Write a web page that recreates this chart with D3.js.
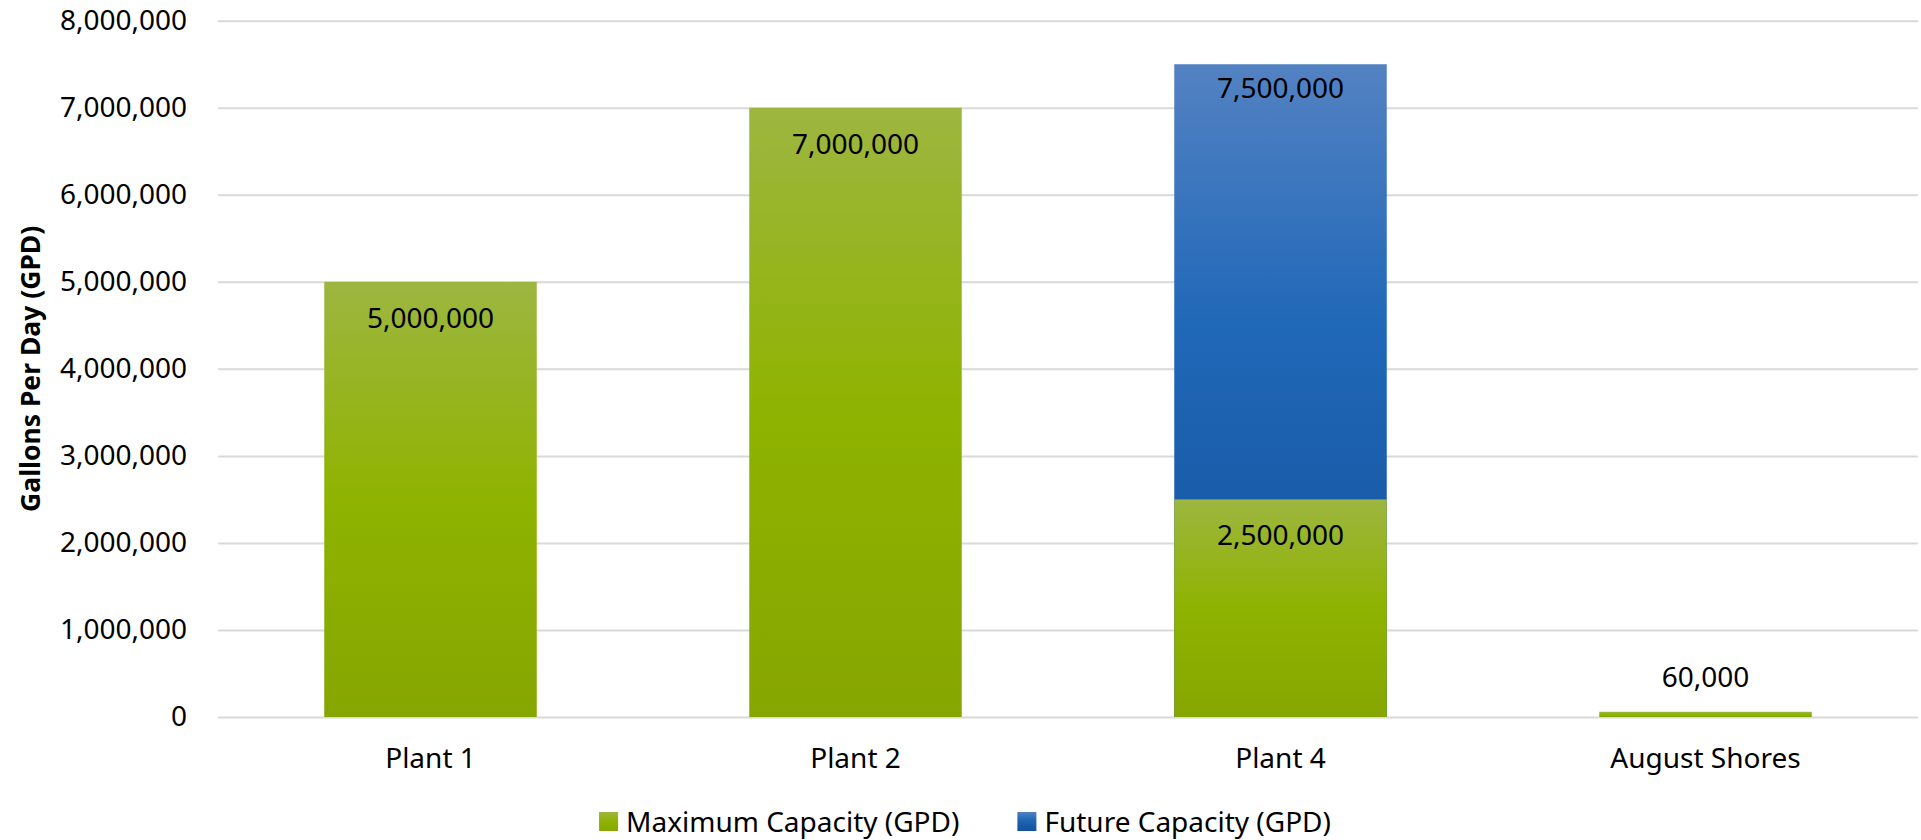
<!DOCTYPE html>
<html>
<head>
<meta charset="utf-8">
<script src="https://cdn.jsdelivr.net/npm/d3@7"></script>
<style>
  body { margin: 0; background: #fff; }
  text { font-family: "Noto Sans", sans-serif; fill: #000; }
  .axis .domain { display: none; }
  .axis--y line { stroke: #d9d9d9; stroke-width: 2; }
</style>
</head>
<body>
<svg width="1921" height="840"></svg>
<script>
// chart data
var categories = ["Plant 1", "Plant 2", "Plant 4", "August Shores"];
var maxCapacity = [5000000, 7000000, 2500000, 60000];
var futureCapacity = [null, null, 7500000, null];
var yTicks = [0, 1000000, 2000000, 3000000, 4000000, 5000000, 6000000, 7000000, 8000000];
var seriesNames = ["Maximum Capacity (GPD)", "Future Capacity (GPD)"];

var svg = d3.select("svg"),
    plot = { left: 218, right: 1918, top: 20.7, bottom: 717 };

var x = d3.scaleBand()
    .domain(categories)
    .range([plot.left, plot.right])
    .paddingInner(0.5)
    .paddingOuter(0.25);

var y = d3.scaleLinear()
    .domain([0, 8000000])
    .range([plot.bottom, plot.top]);

var fmt = d3.format(",");

// gradients like the office "light to dark" fill
var defs = svg.append("defs");
function gradient(id, stops) {
    var g = defs.append("linearGradient")
        .attr("id", id)
        .attr("x1", 0).attr("y1", 0).attr("x2", 0).attr("y2", 1);
    stops.forEach(function(s) {
        g.append("stop").attr("offset", s[0]).attr("stop-color", s[1]);
    });
}
gradient("green", [[0, "#9db640"], [0.5, "#8fb300"], [1, "#86a600"]]);
gradient("blue", [[0, "#5382c2"], [0.4, "#2068b8"], [0.75, "#1759a6"], [1, "#14529c"]]);

// y axis with gridlines
svg.append("g")
    .attr("class", "axis axis--y")
    .attr("transform", "translate(" + plot.left + ",0)")
    .call(d3.axisLeft(y)
        .tickValues(yTicks)
        .tickSize(-(plot.right - plot.left))
        .tickPadding(31)
        .tickFormat(fmt))
    .selectAll("text")
    .style("font-size", "28px");

// x axis labels
svg.append("g")
    .attr("class", "axis axis--x")
    .attr("transform", "translate(0," + plot.bottom + ")")
    .call(d3.axisBottom(x).tickSize(0).tickPadding(31))
    .selectAll("text")
    .style("font-size", "28px");

svg.append("text")
    .attr("transform", "translate(40," + (plot.top + plot.bottom) / 2 + ") rotate(-90)")
    .attr("text-anchor", "middle")
    .style("font-size", "26.5px")
    .style("font-weight", "bold")
    .text("Gallons Per Day (GPD)");

// future bars sit behind the max bars (100% overlap)
var future = categories.map(function(c, i) { return { cat: c, value: futureCapacity[i] }; })
    .filter(function(d) { return d.value != null; });
var max = categories.map(function(c, i) { return { cat: c, value: maxCapacity[i] }; });

function drawBars(data, fill) {
    svg.append("g").selectAll("rect")
        .data(data)
        .enter().append("rect")
        .attr("x", function(d) { return x(d.cat); })
        .attr("y", function(d) { return y(d.value); })
        .attr("width", x.bandwidth())
        .attr("height", function(d) { return y(0) - y(d.value); })
        .attr("fill", fill);
}
drawBars(future, "url(#blue)");
drawBars(max, "url(#green)");

// value labels, inside the top of the bar or above it when too short
function drawLabels(data, inset) {
    svg.append("g").selectAll("text")
        .data(data)
        .enter().append("text")
        .attr("x", function(d) { return x(d.cat) + x.bandwidth() / 2; })
        .attr("y", function(d) {
            var h = y(0) - y(d.value);
            return h > 70 ? y(d.value) + inset : y(d.value) - 35;
        })
        .attr("dy", "0.35em")
        .attr("text-anchor", "middle")
        .style("font-size", "28px")
        .text(function(d) { return fmt(d.value); });
}
drawLabels(future, 24);
drawLabels(max, 36);

// legend
var legend = svg.append("g");
var fills = ["url(#green)", "url(#blue)"];
var offset = 0;
seriesNames.forEach(function(name, i) {
    var item = legend.append("g").attr("transform", "translate(" + offset + ",0)");
    item.append("rect")
        .attr("x", 0).attr("y", -10)
        .attr("width", 19).attr("height", 19)
        .attr("fill", fills[i]);
    var t = item.append("text")
        .attr("x", 27)
        .attr("dy", "0.35em")
        .style("font-size", "28px")
        .text(name);
    offset += 27 + t.node().getComputedTextLength() + 58;
});
offset -= 58;
legend.attr("transform", "translate(" + (965 - offset / 2) + ",822)");
</script>
</body>
</html>
